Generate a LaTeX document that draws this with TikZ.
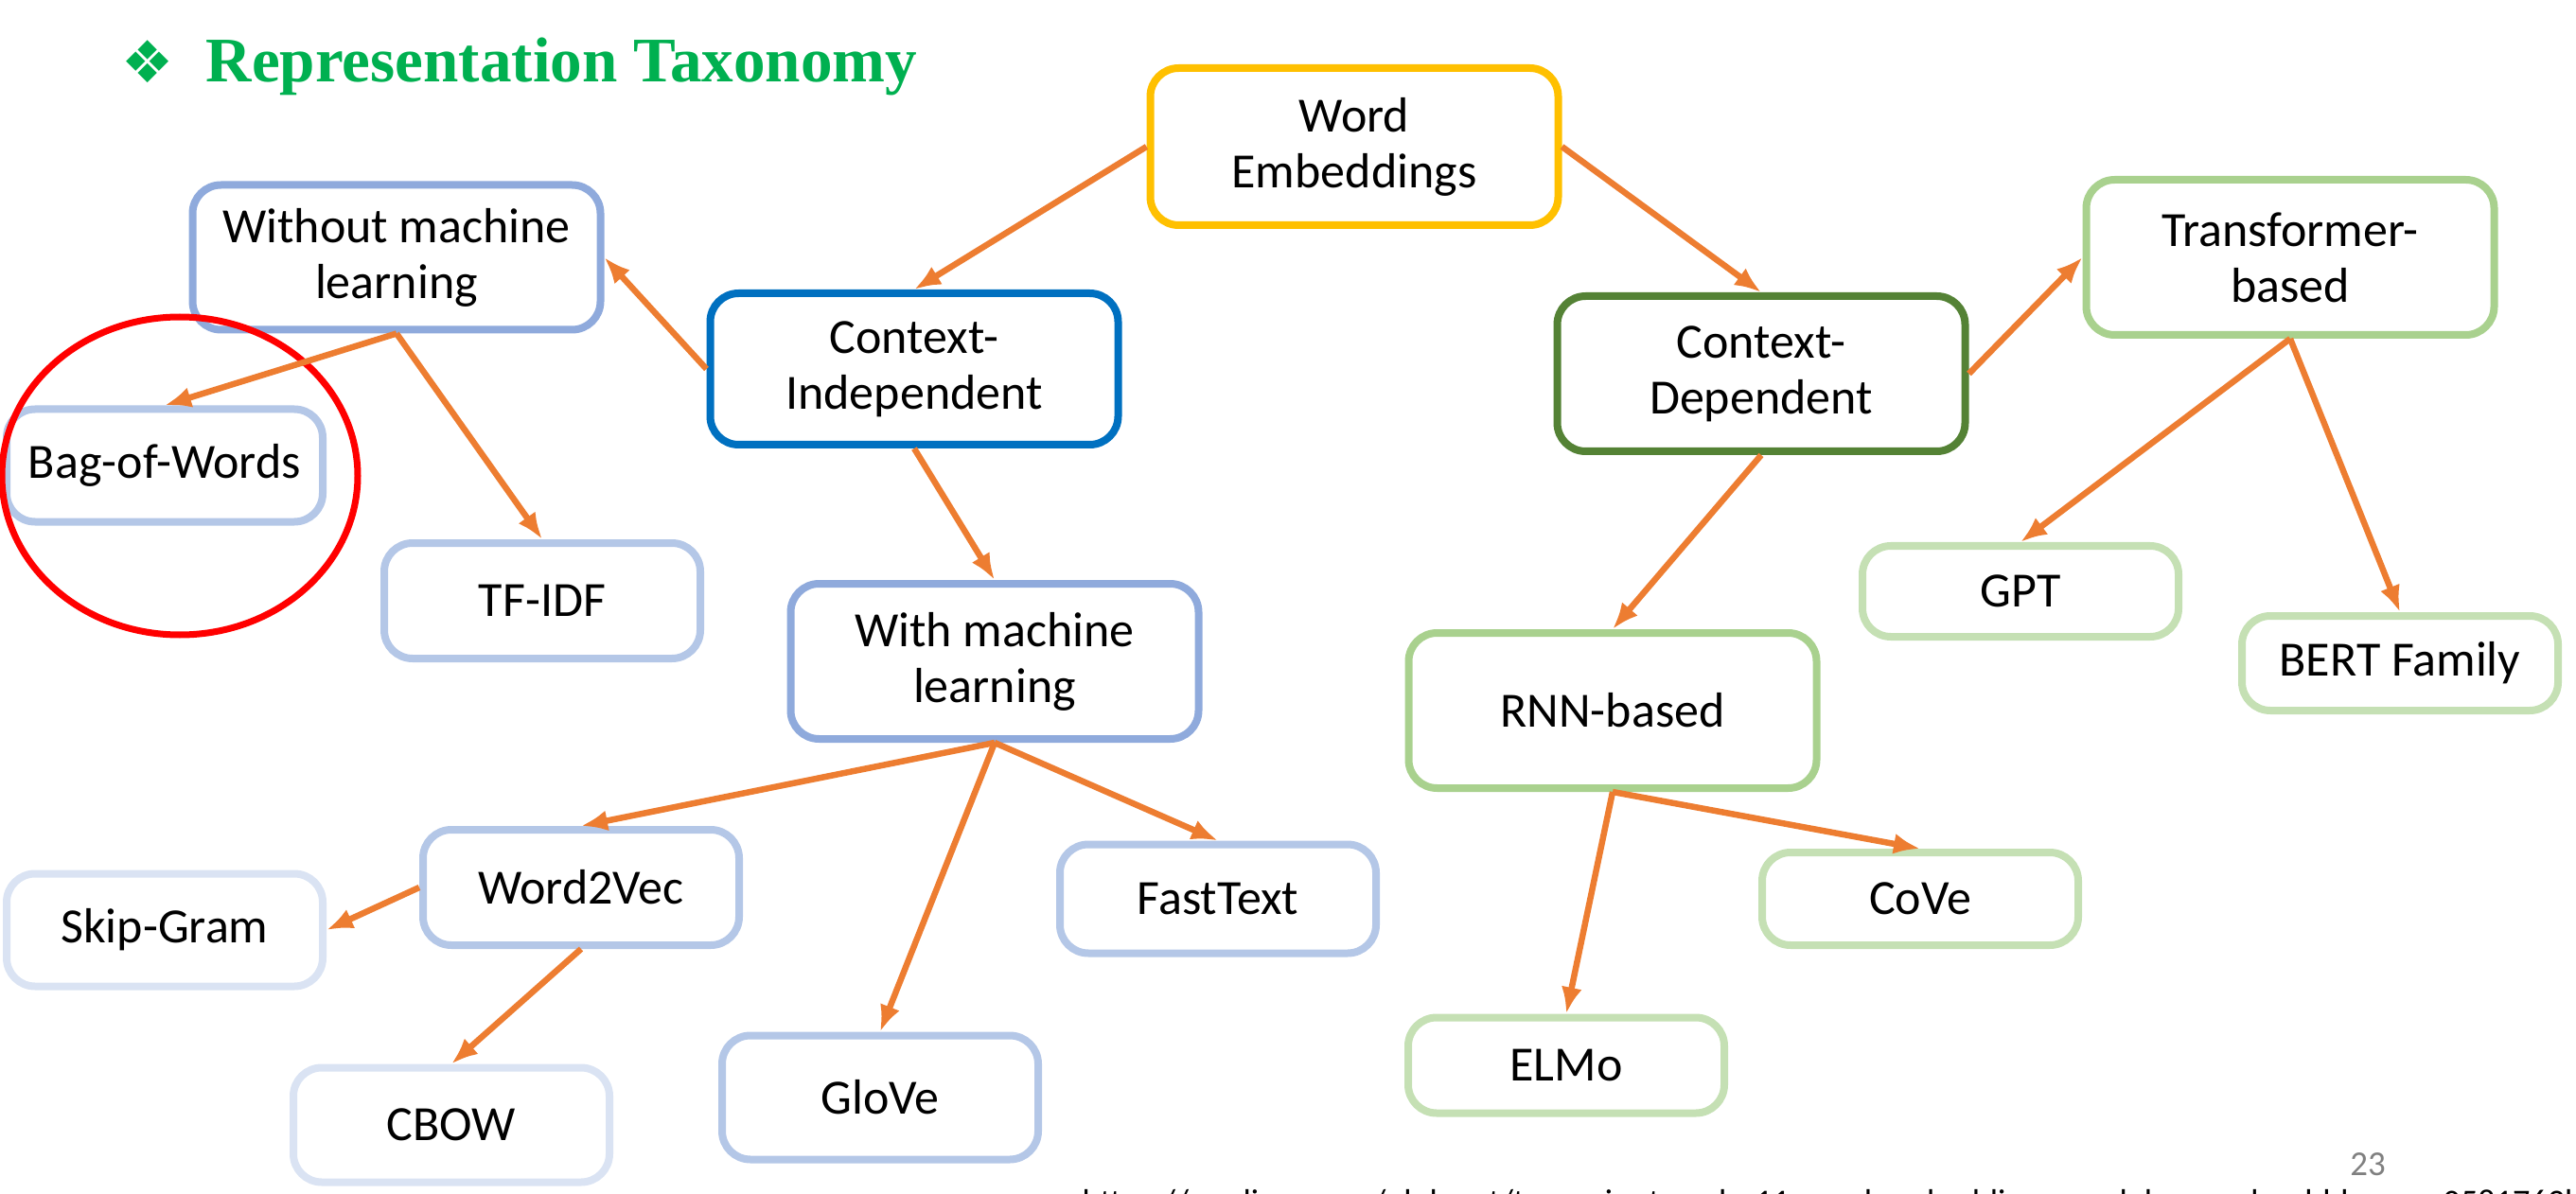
\documentclass[tikz,border=0pt]{standalone}
\usepackage{fontspec}
\usetikzlibrary{arrows.meta}
\setmainfont{Carlito}
\newfontfamily\titlefont{Liberation Serif}
\newfontfamily\bulletfont{DejaVu Sans}

\definecolor{gold}{HTML}{FFC000}
\definecolor{darkblue}{HTML}{0070C0}
\definecolor{darkgreen}{HTML}{548235}
\definecolor{midblue}{HTML}{8FAADC}
\definecolor{lightblue}{HTML}{B4C7E7}
\definecolor{paleblue}{HTML}{DAE3F3}
\definecolor{midgreen}{HTML}{A9D18E}
\definecolor{lightgreen}{HTML}{C5E0B4}
\definecolor{arrow}{HTML}{ED7D31}
\definecolor{titlegreen}{HTML}{00B050}

\begin{document}
\begin{tikzpicture}[
    box/.style={draw=#1, line width=0.08cm, rounded corners=0.3cm, align=center,
        font=\fontsize{14.8}{16.8}\selectfont, inner sep=0pt},
    big/.style={minimum width=4.31cm},
    small/.style={minimum width=3.34cm},
    arr/.style={draw=arrow, line width=0.065cm, -{Latex[length=0.28cm, width=0.22cm]}}
]
    \clip (0,0) rectangle (27.22,-12.62);

    \node[text=titlegreen, font=\bulletfont\fontsize{17.5}{18}\selectfont, inner sep=0pt] (bullet) at (1.56,-0.65) {❖};
    \node[anchor=base west, text=titlegreen, font=\titlefont\bfseries\fontsize{19.1}{22}\selectfont, inner sep=0pt] (title) at (2.17,-0.87) {Representation Taxonomy};

    \node[box=gold, big, minimum height=1.66cm] (we) at (14.31,-1.55) {Word\\Embeddings};
    \node[box=darkblue, big, minimum height=1.60cm] (ci) at (9.66,-3.90) {Context-\\Independent};
    \node[box=darkgreen, big, minimum height=1.64cm] (cd) at (18.61,-3.95) {Context-\\Dependent};
    \node[box=midblue, big, minimum height=1.53cm] (wml) at (4.19,-2.72) {Without machine\\learning};
    \node[box=midblue, big, minimum height=1.64cm] (wiml) at (10.51,-6.99) {With machine\\learning};
    \node[box=midgreen, big, minimum height=1.64cm] (tb) at (24.20,-2.72) {Transformer-\\based};
    \node[box=midgreen, big, minimum height=1.64cm] (rnn) at (17.04,-7.51) {RNN-based};

    \node[box=lightblue, small, minimum height=1.19cm] (bow) at (1.74,-4.92) {Bag-of-Words};
    \node[box=lightblue, small, minimum height=1.22cm] (tfidf) at (5.73,-6.35) {TF-IDF};
    \node[box=lightblue, small, minimum height=1.22cm] (w2v) at (6.14,-9.38) {Word2Vec};
    \node[box=lightblue, small, minimum height=1.15cm] (fast) at (12.87,-9.50) {FastText};
    \node[box=lightblue, small, minimum height=1.31cm] (glove) at (9.30,-11.60) {GloVe};
    \node[box=paleblue, small, minimum height=1.19cm] (skip) at (1.74,-9.83) {Skip-Gram};
    \node[box=paleblue, small, minimum height=1.21cm] (cbow) at (4.77,-11.89) {CBOW};
    \node[box=lightgreen, small, minimum height=0.96cm] (gpt) at (21.35,-6.25) {GPT};
    \node[box=lightgreen, small, minimum height=1.00cm] (bert) at (25.36,-7.01) {BERT Family};
    \node[box=lightgreen, small, minimum height=0.98cm] (cove) at (20.29,-9.50) {CoVe};
    \node[box=lightgreen, small, minimum height=1.01cm] (elmo) at (16.55,-11.26) {ELMo};

    \draw[red, line width=0.07cm] (1.90,-5.03) ellipse [x radius=1.88cm, y radius=1.68cm];

    \foreach \a/\b in {we.west/ci.north, we.east/cd.north, ci.west/wml.east, ci.south/wiml.north,
        wml.south/bow.north, wml.south/tfidf.north, wiml.south/w2v.north, wiml.south/glove.north,
        wiml.south/fast.north, w2v.west/skip.east, w2v.south/cbow.north, cd.east/tb.west,
        cd.south/rnn.north, tb.south/gpt.north, tb.south/bert.north, rnn.south/elmo.north,
        rnn.south/cove.north}
        \draw[arr] (\a) -- (\b);

    \node[text=gray, font=\fontsize{10.5}{12}\selectfont, inner sep=0pt] (page) at (25.02,-12.31) {23};
    \node[anchor=base west, font=\fontsize{10.3}{12}\selectfont, inner sep=0pt] (source) at (11.43,-12.82)
        {https://medium.com/nlplanet/two-minutes-nlp-11-word-embeddings-models-you-should-know-a0581763b9a9};
\end{tikzpicture}
\end{document}
